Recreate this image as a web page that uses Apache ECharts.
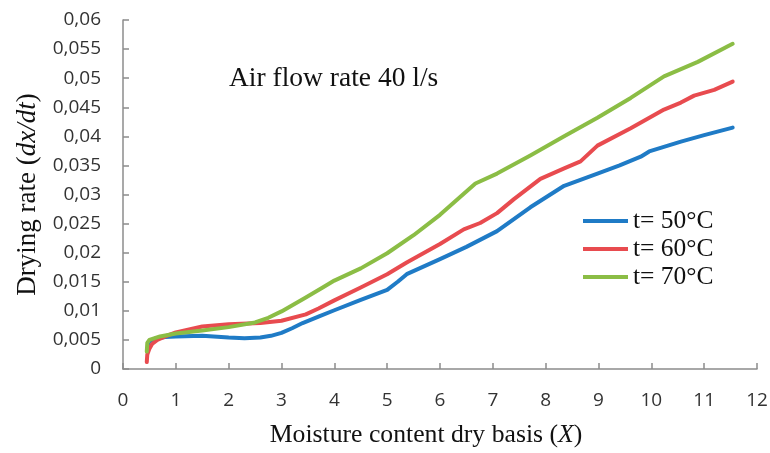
<!DOCTYPE html>
<html>
<head>
<meta charset="utf-8">
<script src="https://cdn.jsdelivr.net/npm/echarts@6/dist/echarts.min.js"></script>
<style>
  html, body { margin: 0; padding: 0; background: #fff; }
  #chart { width: 770px; height: 453px; }
</style>
</head>
<body>
<div id="chart"></div>
<script>
// drying rate vs moisture content
const seriesNames = ['t= 50°C', 't= 60°C', 't= 70°C'];

const rate50 = [
  [0.47, 0.0040], [0.49, 0.0047], [0.6, 0.0052], [0.8, 0.0055], [1.0, 0.0056],
  [1.5, 0.0057], [2.0, 0.0054], [2.3, 0.0053], [2.6, 0.0054], [2.8, 0.0057],
  [3.0, 0.0062], [3.2, 0.0070], [3.4, 0.0079], [3.7, 0.0090], [4.0, 0.0101],
  [4.5, 0.0119], [5.0, 0.0136], [5.2, 0.0150], [5.37, 0.0163], [6.0, 0.0189],
  [6.5, 0.0210], [7.08, 0.0237], [7.71, 0.0278], [8.35, 0.0315], [8.98, 0.0336],
  [9.4, 0.0350], [9.8, 0.0365], [9.96, 0.0374], [10.56, 0.0391], [11.0, 0.0402],
  [11.54, 0.0415],
];

const rate60 = [
  [0.45, 0.0012], [0.46, 0.0025], [0.5, 0.0035], [0.55, 0.0043], [0.65, 0.0050],
  [0.8, 0.0056], [1.0, 0.0063], [1.5, 0.0073], [2.0, 0.0077], [2.6, 0.0079],
  [3.0, 0.0083], [3.46, 0.0094], [3.7, 0.0104], [4.0, 0.0118], [4.5, 0.0140],
  [5.0, 0.0163], [5.37, 0.0183], [6.0, 0.0215], [6.45, 0.0240], [6.76, 0.0251],
  [7.08, 0.0268], [7.4, 0.0292], [7.9, 0.0327], [8.35, 0.0345], [8.66, 0.0357],
  [8.98, 0.0384], [9.61, 0.0414], [10.24, 0.0446], [10.56, 0.0458], [10.81, 0.0470],
  [11.19, 0.0480], [11.54, 0.0494],
];

const rate70 = [
  [0.45, 0.0030], [0.46, 0.0045], [0.5, 0.0050], [0.7, 0.0056], [1.0, 0.0061],
  [1.5, 0.0066], [2.0, 0.0072], [2.5, 0.0080], [2.75, 0.0088], [3.0, 0.0099],
  [3.46, 0.0123], [3.78, 0.0140], [4.0, 0.0152], [4.5, 0.0173], [5.0, 0.0199],
  [5.5, 0.0230], [6.0, 0.0265], [6.67, 0.0319], [7.08, 0.0336], [7.71, 0.0367],
  [8.35, 0.0400], [8.98, 0.0432], [9.61, 0.0466], [10.24, 0.0503], [10.88, 0.0528],
  [11.54, 0.0559],
];

const yTickLabels = [
  '0', '0,005', '0,01', '0,015', '0,02', '0,025', '0,03',
  '0,035', '0,04', '0,045', '0,05', '0,055', '0,06',
];

const COLORS = ['#1f7bc6', '#e84b4f', '#8bbd45'];
const SERIF = '"Liberation Serif", "Times New Roman", serif';
const SANS = '"Open Sans", "Noto Sans", sans-serif';
const AXIS_COLOR = '#8c8c8c';
const TEXT_COLOR = '#111';

function lineSeries(name, data, color) {
  return {
    name,
    type: 'line',
    data,
    showSymbol: false,
    smooth: false,
    lineStyle: { width: 4, color, join: 'round', cap: 'round' },
    itemStyle: { color },
  };
}

function serifRich(fontSize) {
  return {
    n: { fontFamily: SERIF, fontSize, color: TEXT_COLOR },
    i: { fontFamily: SERIF, fontSize, fontStyle: 'italic', color: TEXT_COLOR },
  };
}

const chart = echarts.init(document.getElementById('chart'), null, { renderer: 'canvas' });

chart.setOption({
  animation: false,
  backgroundColor: '#fff',
  title: {
    text: 'Air flow rate 40 l/s',
    left: 224,
    top: 60,
    textStyle: { fontFamily: SERIF, fontSize: 27.5, fontWeight: 'normal', color: TEXT_COLOR },
  },
  legend: {
    orient: 'vertical',
    left: 583,
    top: 208,
    padding: 0,
    icon: 'rect',
    itemWidth: 45,
    itemHeight: 4,
    itemGap: 2,
    data: seriesNames,
    textStyle: { fontFamily: SERIF, fontSize: 25.5, color: TEXT_COLOR },
  },
  grid: {
    left: 123,
    right: 13,
    top: 20,
    bottom: 84,
    containLabel: false,
    outerBoundsMode: 'none',
  },
  xAxis: {
    type: 'value',
    min: 0,
    max: 12,
    interval: 1,
    name: '{n|Moisture content dry basis (}{i|X}{n|)}',
    nameLocation: 'middle',
    nameGap: 53,
    nameTextStyle: {
      padding: [0, 28, 0, 0],
      rich: serifRich(25.7),
    },
    axisLine: { lineStyle: { color: AXIS_COLOR, width: 1.5 } },
    axisTick: { inside: true, length: 6, lineStyle: { color: AXIS_COLOR, width: 1.5 } },
    axisLabel: { margin: 22, fontFamily: SANS, fontSize: 19, color: '#333' },
    splitLine: { show: false },
  },
  yAxis: {
    type: 'value',
    min: 0,
    max: 0.06,
    interval: 0.005,
    name: '{n|Drying rate (}{i|dx/dt}{n|)}',
    nameLocation: 'middle',
    nameGap: 82,
    nameTextStyle: {
      rich: serifRich(27),
    },
    axisLine: { show: true, lineStyle: { color: AXIS_COLOR, width: 1.5 } },
    axisTick: { show: true, inside: true, length: 6, lineStyle: { color: AXIS_COLOR, width: 1.5 } },
    axisLabel: {
      margin: 22,
      fontFamily: SANS,
      fontSize: 19,
      color: '#333',
      formatter: (value, index) => yTickLabels[index],
    },
    splitLine: { show: false },
  },
  series: [
    lineSeries(seriesNames[0], rate50, COLORS[0]),
    lineSeries(seriesNames[1], rate60, COLORS[1]),
    lineSeries(seriesNames[2], rate70, COLORS[2]),
  ],
});
</script>
</body>
</html>
